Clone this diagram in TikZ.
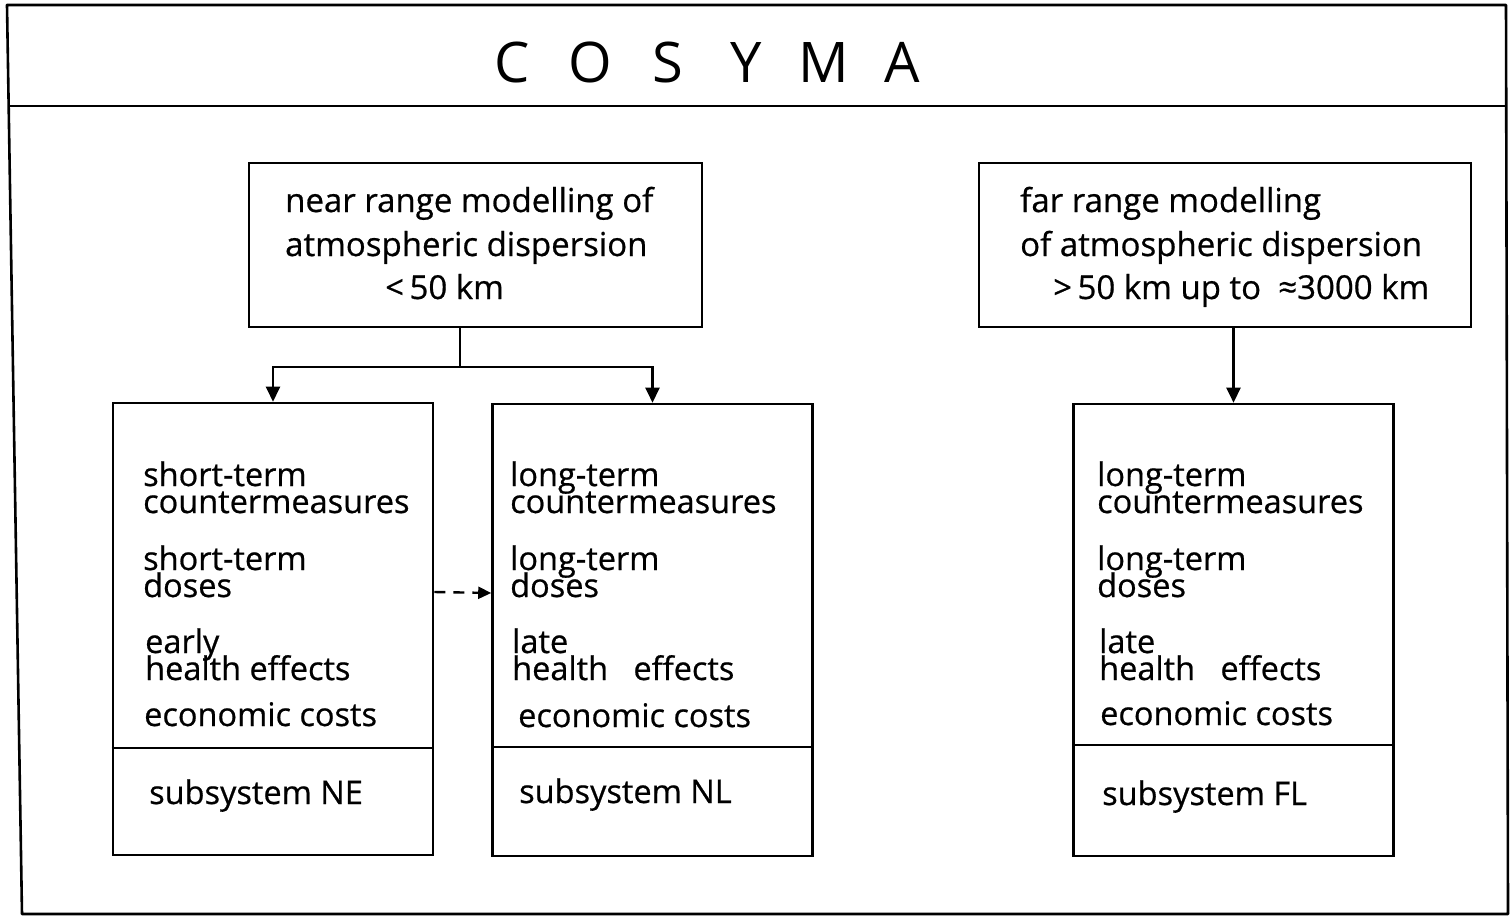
\documentclass[tikz,border=0pt]{standalone}
\usepackage{fontspec}
\setmainfont{Open Sans}
\newfontfamily\medfont{Open Sans}[FakeBold=0.6]
\newcommand\tightlines{\lineskiplimit=-100pt\relax\lineskip=0pt\relax}
\usetikzlibrary{arrows.meta,calc}
\tikzset{
  frame/.style={line width=2.6pt,line join=round},
  topbox/.style={draw,line width=2.6pt,rectangle,inner sep=0pt},
  subbox/.style={draw,line width=2.6pt,rectangle,inner sep=0pt,minimum width=320pt,minimum height=452pt},
  conn/.style={line width=2.4pt},
  arr/.style={line width=2.4pt,-{Triangle[width=14pt,length=15pt]}},
  dasharr/.style={line width=2.4pt,dash pattern=on 11pt off 8pt,-{Triangle[width=12pt,length=13pt]}},
  txt/.style={anchor=base west,inner sep=0pt,align=left,font=\medfont\fontsize{32.5}{27}\selectfont\tightlines},
  hdr/.style={anchor=base west,inner sep=0pt,align=left,font=\medfont\fontsize{33}{44}\selectfont\tightlines},
}
\begin{document}
\begin{tikzpicture}[x=1pt,y=-1pt]
\useasboundingbox (0,0) rectangle (1510,918);
% outer frame
\draw[frame] (7,5) -- (1506,5) -- (1508,914) -- (22,914) -- cycle;
\draw[frame] (9,106) -- (1507,106);
\node[inner sep=0pt,font=\fontsize{56}{56}\selectfont] (title) at (707,62)
  {\makebox[78pt]{C}\makebox[78pt]{O}\makebox[78pt]{S}\makebox[78pt]{Y}\makebox[78pt]{M}\makebox[78pt]{A}};

% top boxes
\node[topbox,minimum width=453pt,minimum height=164pt] (near) at (475.5,245) {};
\node[topbox,minimum width=492pt,minimum height=164pt] (far) at (1225,245) {};
\node[hdr] (neart) at (285,256) {near range modelling of\\atmospheric dispersion};
\node[hdr] (nearkm) at (385,299) {<\,50 km};
\node[hdr] (fart) at (1020,256) {far range modelling\\of atmospheric dispersion};
\node[hdr] (farkm) at (1053,299) {>\,50 km up to \ ≈3000 km};

% subsystem boxes
\node[subbox] (ne) at (273,629) {};
\node[subbox] (nl) at (652.5,630) {};
\node[subbox] (fl) at (1233.5,630) {};
\draw[conn] (ne.west |- 0,748) -- (ne.east |- 0,748);
\draw[conn] (nl.west |- 0,747) -- (nl.east |- 0,747);
\draw[conn] (fl.west |- 0,745) -- (fl.east |- 0,745);

% texts NE
\node[txt] (ne1) at (143,513) {short-term\\countermeasures};
\node[txt] (ne2) at (143,597) {short-term\\doses};
\node[txt] (ne3) at (145,680) {early\\health effects};
\node[txt] (ne4) at (144,726) {economic costs};
\node[txt] (ne5) at (149,804) {subsystem NE};
% texts NL
\node[txt] (nl1) at (510,513) {long-term\\countermeasures};
\node[txt] (nl2) at (510,597) {long-term\\doses};
\node[txt] (nl3) at (512,680) {late\\health \ \ effects};
\node[txt] (nl4) at (518,727) {economic costs};
\node[txt] (nl5) at (519,803) {subsystem NL};
% texts FL
\node[txt] (fl1) at (1097,513) {long-term\\countermeasures};
\node[txt] (fl2) at (1097,597) {long-term\\doses};
\node[txt] (fl3) at (1099,680) {late\\health \ \ effects};
\node[txt] (fl4) at (1100,725) {economic costs};
\node[txt] (fl5) at (1102,805) {subsystem FL};

% connectors
\coordinate (j) at (460,367);
\draw[conn] (near.south -| j) -- (j);
\draw[arr] (j) -| (ne.north);
\draw[arr] (j) -| (nl.north);
\draw[arr] (fl.north |- far.south) -- (fl.north);
\draw[dasharr] ([yshift=37pt]ne.east) -- ([yshift=37pt]nl.west);
\end{tikzpicture}
\end{document}
